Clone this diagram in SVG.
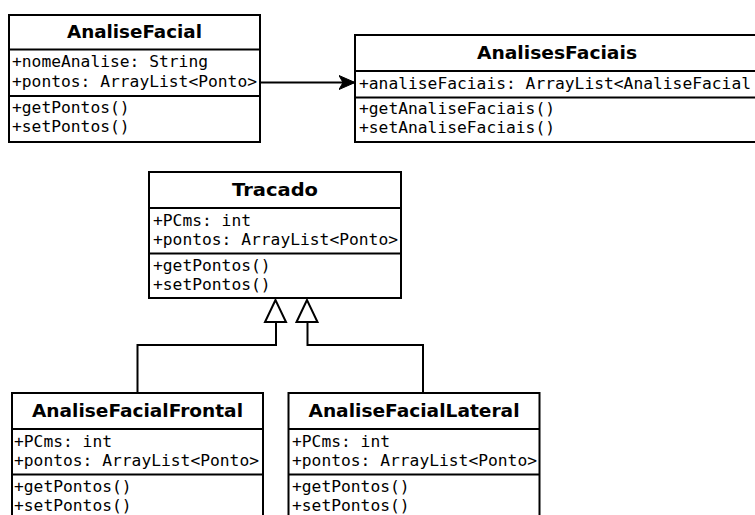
<svg xmlns="http://www.w3.org/2000/svg" width="755" height="515" viewBox="0 0 755 515">
<style>
.box{fill:#fff;stroke:#000;stroke-width:2}
.div{stroke:#000;stroke-width:2;fill:none}
.t{font-family:"DejaVu Sans","Liberation Sans",sans-serif;font-weight:bold;font-size:17px;text-anchor:middle;fill:#000}
.m{font-family:"DejaVu Sans Mono","Liberation Mono",monospace;font-size:15px;fill:#000}
.edge{stroke:#000;stroke-width:2;fill:none}
</style>
<defs>
<marker id="arr" markerUnits="userSpaceOnUse" markerWidth="20" markerHeight="20" refX="16" refY="8" orient="auto">
<path d="M0,1 L16,8 L0,15 L4,8 Z" fill="#000" stroke="#000" stroke-width="1"/>
</marker>
</defs>
<rect width="755" height="515" fill="#fff"/>
<g id="connectors">
<line class="edge" x1="260" y1="82.5" x2="355" y2="82.5" marker-end="url(#arr)"/>
<polyline class="edge" points="276,322 276,345 137.5,345 137.5,393"/>
<polyline class="edge" points="307.5,322 307.5,345 423,345 423,393"/>
<polygon class="edge" fill="#fff" points="275.5,300 265,322 286,322"/>
<polygon class="edge" fill="#fff" points="307,300 296.5,322 317.5,322"/>
</g>
<g id="AnaliseFacial">
<rect class="box" x="9" y="15" width="251" height="127"/>
<line class="div" x1="9" y1="49.5" x2="260" y2="49.5"/>
<line class="div" x1="9" y1="96" x2="260" y2="96"/>
<text class="t" x="134.5" y="37.5" textLength="135" lengthAdjust="spacingAndGlyphs">AnaliseFacial</text>
<text class="m" x="12" y="67" textLength="196" lengthAdjust="spacingAndGlyphs">+nomeAnalise: String</text>
<text class="m" x="12" y="86.5" textLength="245" lengthAdjust="spacingAndGlyphs">+pontos: ArrayList&lt;Ponto&gt;</text>
<text class="m" x="12" y="113" textLength="117.6" lengthAdjust="spacingAndGlyphs">+getPontos()</text>
<text class="m" x="12" y="132" textLength="117.6" lengthAdjust="spacingAndGlyphs">+setPontos()</text>
</g>
<g id="AnalisesFaciais">
<rect class="box" x="355" y="35" width="404" height="107"/>
<line class="div" x1="355" y1="71" x2="759" y2="71"/>
<line class="div" x1="355" y1="97.5" x2="759" y2="97.5"/>
<text class="t" x="557" y="59" textLength="160" lengthAdjust="spacingAndGlyphs">AnalisesFaciais</text>
<text class="m" x="359" y="88.5" textLength="392" lengthAdjust="spacingAndGlyphs">+analiseFaciais: ArrayList&lt;AnaliseFacial</text>
<text class="m" x="359" y="113.5" textLength="196" lengthAdjust="spacingAndGlyphs">+getAnaliseFaciais()</text>
<text class="m" x="359" y="132.5" textLength="196" lengthAdjust="spacingAndGlyphs">+setAnaliseFaciais()</text>
</g>
<g id="Tracado">
<rect class="box" x="149" y="172" width="252" height="126"/>
<line class="div" x1="149" y1="208" x2="401" y2="208"/>
<line class="div" x1="149" y1="253.5" x2="401" y2="253.5"/>
<text class="t" x="275" y="195.5" textLength="86" lengthAdjust="spacingAndGlyphs">Tracado</text>
<text class="m" x="153" y="225.5" textLength="98" lengthAdjust="spacingAndGlyphs">+PCms: int</text>
<text class="m" x="153" y="245" textLength="245" lengthAdjust="spacingAndGlyphs">+pontos: ArrayList&lt;Ponto&gt;</text>
<text class="m" x="153" y="270.5" textLength="117.6" lengthAdjust="spacingAndGlyphs">+getPontos()</text>
<text class="m" x="153" y="289.5" textLength="117.6" lengthAdjust="spacingAndGlyphs">+setPontos()</text>
</g>
<g id="AnaliseFacialFrontal">
<rect class="box" x="12" y="393" width="251" height="140"/>
<line class="div" x1="12" y1="429" x2="263" y2="429"/>
<line class="div" x1="12" y1="474.5" x2="263" y2="474.5"/>
<text class="t" x="137.5" y="417" textLength="211" lengthAdjust="spacingAndGlyphs">AnaliseFacialFrontal</text>
<text class="m" x="14" y="446.5" textLength="98" lengthAdjust="spacingAndGlyphs">+PCms: int</text>
<text class="m" x="14" y="466" textLength="245" lengthAdjust="spacingAndGlyphs">+pontos: ArrayList&lt;Ponto&gt;</text>
<text class="m" x="14" y="491.5" textLength="117.6" lengthAdjust="spacingAndGlyphs">+getPontos()</text>
<text class="m" x="14" y="510.5" textLength="117.6" lengthAdjust="spacingAndGlyphs">+setPontos()</text>
</g>
<g id="AnaliseFacialLateral">
<rect class="box" x="288.5" y="393" width="251" height="140"/>
<line class="div" x1="288.5" y1="429" x2="539.5" y2="429"/>
<line class="div" x1="288.5" y1="474.5" x2="539.5" y2="474.5"/>
<text class="t" x="414" y="417" textLength="211" lengthAdjust="spacingAndGlyphs">AnaliseFacialLateral</text>
<text class="m" x="292" y="446.5" textLength="98" lengthAdjust="spacingAndGlyphs">+PCms: int</text>
<text class="m" x="292" y="466" textLength="245" lengthAdjust="spacingAndGlyphs">+pontos: ArrayList&lt;Ponto&gt;</text>
<text class="m" x="292" y="491.5" textLength="117.6" lengthAdjust="spacingAndGlyphs">+getPontos()</text>
<text class="m" x="292" y="510.5" textLength="117.6" lengthAdjust="spacingAndGlyphs">+setPontos()</text>
</g>
</svg>
